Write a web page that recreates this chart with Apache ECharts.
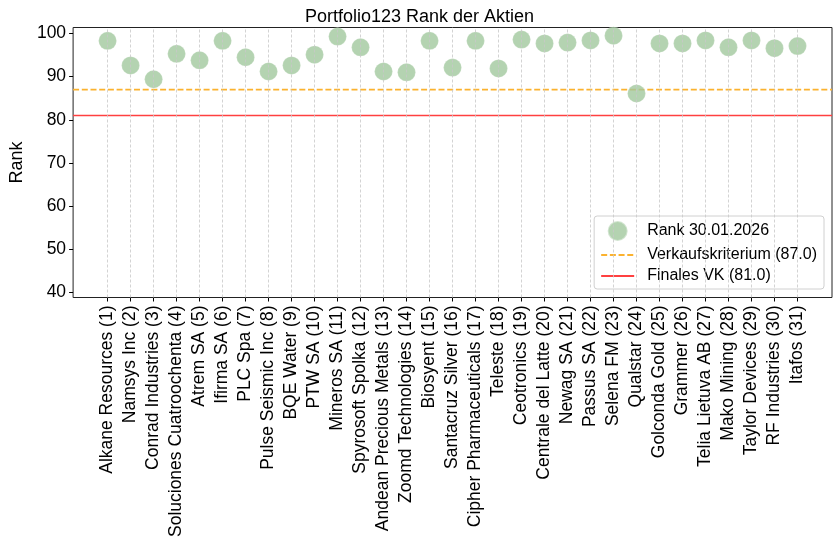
<!DOCTYPE html>
<html>
<head>
<meta charset="utf-8">
<script src="https://cdn.jsdelivr.net/npm/echarts@6/dist/echarts.min.js"></script>
<style>
html,body{margin:0;padding:0;background:#fff;}
#chart{width:839px;height:551px;}
</style>
</head>
<body>
<div id="chart"></div>
<script>
const categories = [
  "Alkane Resources (1)","Namsys Inc (2)","Conrad Industries (3)","Soluciones Cuatroochenta (4)",
  "Atrem SA (5)","Ifirma SA (6)","PLC Spa (7)","Pulse Seismic Inc (8)","BQE Water (9)",
  "PTW SA (10)","Mineros SA (11)","Spyrosoft Spolka (12)","Andean Precious Metals (13)",
  "Zoomd Technologies (14)","Biosyent (15)","Santacruz Silver (16)","Cipher Pharmaceuticals (17)",
  "Teleste (18)","Ceotronics (19)","Centrale del Latte (20)","Newag SA (21)","Passus SA (22)",
  "Selena FM (23)","Qualstar (24)","Golconda Gold (25)","Grammer (26)","Telia Lietuva AB (27)",
  "Mako Mining (28)","Taylor Devices (29)","RF Industries (30)","Itafos (31)"
];
const rankValues = [
  98.3, 92.6, 89.4, 95.3, 93.8, 98.3, 94.5, 91.2, 92.6, 95.1,
  99.3, 96.8, 91.2, 91.0, 98.3, 92.1, 98.3, 91.9, 98.6, 97.7,
  97.9, 98.4, 99.5, 86.1, 97.7, 97.7, 98.4, 96.8, 98.4, 96.6, 97.1
];
const yTicks = [40, 50, 60, 70, 80, 90, 100];
const sellCriterion = 87.0;
const finalCriterion = 81.0;

const FONT = "'Liberation Sans', Arial, sans-serif";
const idx = categories.map((_, i) => i);
const xMin = -1.5, xMax = categories.length - 1 + 1.5;

const chart = echarts.init(document.getElementById('chart'), null, {renderer: 'canvas'});
chart.setOption({
  animation: false,
  backgroundColor: '#fff',
  title: {
    text: 'Portfolio123 Rank der Aktien',
    left: 'center', top: 3,
    textStyle: {fontFamily: FONT, fontSize: 18, fontWeight: 'normal', color: '#000'}
  },
  grid: {
    left: 66.5, right: 7, top: 27.5, bottom: 253.5,
    show: true, borderColor: '#222', borderWidth: 1, containLabel: false
  },
  legend: {
    orient: 'vertical', right: 15, top: 216,
    padding: [4, 7, 5, 6],
    itemWidth: 33, itemHeight: 20, itemGap: 5,
    borderColor: '#d0d0d0', borderWidth: 1, borderRadius: 3,
    backgroundColor: 'rgba(255,255,255,0.8)',
    textStyle: {fontFamily: FONT, fontSize: 16, color: '#000', padding: [0, 0, 0, 8]},
    data: [
      {name: 'Rank 30.01.2026', icon: 'circle'},
      {name: 'Verkaufskriterium (87.0)', itemStyle: {opacity: 0}},
      {name: 'Finales VK (81.0)', itemStyle: {opacity: 0}}
    ]
  },
  xAxis: {
    type: 'value', min: xMin, max: xMax,
    axisLine: {show: false, onZero: false},
    splitLine: {show: false},
    axisTick: {show: true, customValues: idx, length: 4, lineStyle: {color: '#000'}},
    axisLabel: {
      customValues: idx, rotate: 90, margin: 8,
      fontFamily: FONT, fontSize: 17.5, color: '#000',
      formatter: v => categories[Math.round(v)] || ''
    }
  },
  yAxis: {
    type: 'value', min: 38.8, max: 101.4,
    name: 'Rank', nameLocation: 'middle', nameGap: 43, nameRotate: 90,
    nameTextStyle: {fontFamily: FONT, fontSize: 18, color: '#000'},
    axisLine: {show: false, onZero: false},
    splitLine: {show: false},
    axisTick: {show: true, customValues: yTicks, length: 4, lineStyle: {color: '#000'}},
    axisLabel: {customValues: yTicks, margin: 7, fontFamily: FONT, fontSize: 17.5, color: '#000'}
  },
  series: [
    {
      name: 'grid', type: 'line', data: [], silent: true,
      markLine: {
        silent: true, symbol: 'none', label: {show: false},
        lineStyle: {color: '#c8c8c8', type: [3, 2], width: 0.8},
        data: idx.map(i => ({xAxis: i}))
      }
    },
    {
      name: 'Verkaufskriterium (87.0)', type: 'line', symbol: 'none', z: 3,
      data: [[xMin, sellCriterion], [xMax, sellCriterion]],
      lineStyle: {color: '#fbb22f', width: 1.6, type: [6, 2.7]},
      itemStyle: {color: '#fbb22f'}
    },
    {
      name: 'Finales VK (81.0)', type: 'line', symbol: 'none', z: 3,
      data: [[xMin, finalCriterion], [xMax, finalCriterion]],
      lineStyle: {color: '#ff4040', width: 1.6},
      itemStyle: {color: '#ff4040'}
    },
    {
      name: 'Rank 30.01.2026', type: 'scatter', z: 4,
      symbolSize: 18,
      data: rankValues.map((v, i) => [i, v]),
      itemStyle: {color: '#a1c89e', borderColor: 'rgba(255,255,255,0.5)', borderWidth: 0.6}
    }
  ]
});
</script>
</body>
</html>
